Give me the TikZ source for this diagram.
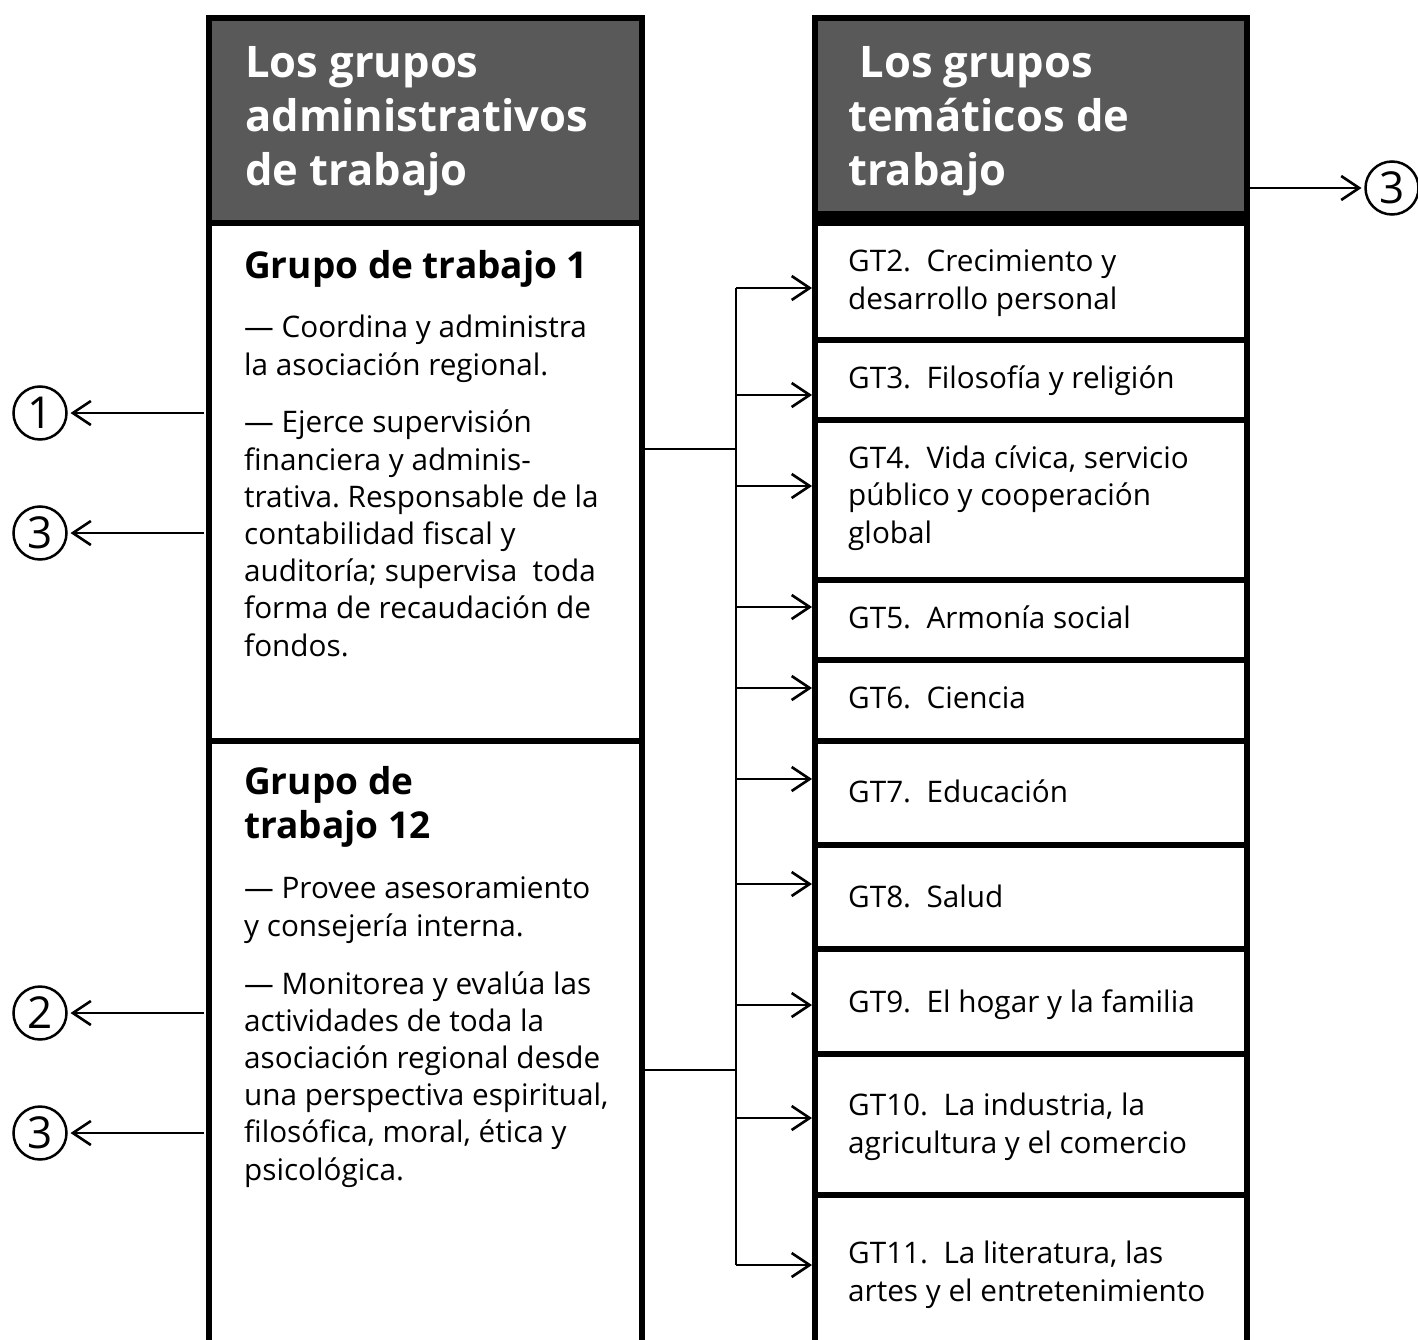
\documentclass[tikz,border=0pt]{standalone}
\usepackage{fontspec}
\setmainfont{Open Sans}
\usetikzlibrary{arrows.meta}
\definecolor{hdrgray}{HTML}{595959}
\frenchspacing
\begin{document}
\begin{tikzpicture}[x=1pt,y=-1pt,
  colbox/.style={draw=black,line width=6pt,inner sep=0pt,outer sep=0pt,anchor=north west},
  hdrbox/.style={colbox,fill=hdrgray},
  hdrtext/.style={anchor=base west,inner sep=0pt,align=left,text=white,font=\fontsize{43.5}{54}\selectfont\bfseries},
  grptext/.style={anchor=base west,inner sep=0pt,align=left,font=\fontsize{37}{44}\selectfont\bfseries},
  bodytext/.style={anchor=base west,inner sep=0pt,align=left,font=\fontsize{29.7}{37.2}\selectfont},
  numcirc/.style={circle,draw=black,line width=2.5pt,minimum size=53pt,inner sep=0pt,outer sep=4pt,font=\fontsize{44}{44}\selectfont},
  conn/.style={line width=2.6pt},
  arrR/.style={conn,-{Straight Barb[length=18pt,width=24pt]},shorten >=3pt},
  arrL/.style={conn,-{Straight Barb[length=18pt,width=24pt]},shorten <=5pt}
]
\clip (0,0) rectangle (1418,1340);
% left column
\node[hdrbox,minimum width=433pt,minimum height=205pt] (hL) at (209,18) {};
\node[colbox,minimum width=433pt,minimum height=518pt] (b1) at (209,223) {};
\node[colbox,minimum width=433pt,minimum height=650pt] (b2) at (209,741) {};
% right column
\node[hdrbox,minimum width=432pt,minimum height=205pt] (hR) at (815,18) {};
\fill[black] (815,211) rectangle (1247,223);
\node[colbox,minimum width=432pt,minimum height=117pt] (r2) at (815,223) {};
\node[colbox,minimum width=432pt,minimum height=80pt] (r3) at (815,340) {};
\node[colbox,minimum width=432pt,minimum height=160pt] (r4) at (815,420) {};
\node[colbox,minimum width=432pt,minimum height=80pt] (r5) at (815,580) {};
\node[colbox,minimum width=432pt,minimum height=81pt] (r6) at (815,660) {};
\node[colbox,minimum width=432pt,minimum height=104pt] (r7) at (815,741) {};
\node[colbox,minimum width=432pt,minimum height=104pt] (r8) at (815,845) {};
\node[colbox,minimum width=432pt,minimum height=105pt] (r9) at (815,949) {};
\node[colbox,minimum width=432pt,minimum height=141pt] (r10) at (815,1054) {};
\node[colbox,minimum width=432pt,minimum height=200pt] (r11) at (815,1195) {};
% header texts (anchor = baseline of last line)
\node[hdrtext] (tL) at (245,186) {Los grupos\\administrativos\\de trabajo};
\node[hdrtext] (tR) at (848,186) {\ Los grupos\\temáticos de\\trabajo};
% left texts
\node[grptext] (g1) at (244,278) {Grupo de trabajo 1};
\node[bodytext] (p1a) at (244,375) {— Coordina y administra\\la asociación regional.};
\node[bodytext] (p1b) at (244,656) {— Ejerce supervisión\\financiera y adminis-\\trativa. Responsable de la\\contabilidad fiscal y\\auditoría; supervisa~ toda\\forma de recaudación de\\fondos.};
\node[grptext] (g12) at (244,838) {Grupo de\\trabajo 12};
\node[bodytext] (p2a) at (244,936) {— Provee asesoramiento\\y consejería interna.};
\node[bodytext] (p2b) at (244,1180) {— Monitorea y evalúa las\\actividades de toda la\\asociación regional desde\\una perspectiva espiritual,\\filosófica, moral, ética y\\psicológica.};
% right texts
\node[bodytext] (t2) at (848,309) {GT2.~ Crecimiento y\\desarrollo personal};
\node[bodytext] (t3) at (848,388) {GT3.~ Filosofía y religión};
\node[bodytext] (t4) at (848,543) {GT4.~ Vida cívica, servicio\\público y cooperación\\global};
\node[bodytext] (t5) at (848,628) {GT5.~ Armonía social};
\node[bodytext] (t6) at (848,708) {GT6.~ Ciencia};
\node[bodytext] (t7) at (848,802) {GT7.~ Educación};
\node[bodytext] (t8) at (848,907) {GT8.~ Salud};
\node[bodytext] (t9) at (848,1012) {GT9.~ El hogar y la familia};
\node[bodytext] (t10) at (848,1153) {GT10.~ La industria, la\\agricultura y el comercio};
\node[bodytext] (t11) at (848,1301) {GT11.~ La literatura, las\\artes y el entretenimiento};
% circled numbers
\node[numcirc] (c1) at (40,413) {1};
\node[numcirc] (c3a) at (40,533) {3};
\node[numcirc] (c2) at (40,1013) {2};
\node[numcirc] (c3b) at (40,1133) {3};
\node[numcirc] (c3r) at (1392,188) {3};
% left arrows
\draw[arrL] (b1.west |- c1) -- (c1);
\draw[arrL] (b1.west |- c3a) -- (c3a);
\draw[arrL] (b2.west |- c2) -- (c2);
\draw[arrL] (b2.west |- c3b) -- (c3b);
\draw[conn,-{Straight Barb[length=18pt,width=24pt]},shorten <=3pt] (hR.east |- c3r) -- (c3r);
% trunk
\coordinate (j1) at (736,449);
\coordinate (j2) at (736,1070);
\coordinate (a2) at (736,288);
\coordinate (a3) at (736,395);
\coordinate (a4) at (736,486);
\coordinate (a5) at (736,607);
\coordinate (a6) at (736,688);
\coordinate (a7) at (736,779);
\coordinate (a8) at (736,884);
\coordinate (a9) at (736,1005);
\coordinate (a10) at (736,1118);
\coordinate (a11) at (736,1265);
\draw[conn] (b1.east |- j1) -- (j1);
\draw[conn] (b2.east |- j2) -- (j2);
\draw[conn] (a2) -- (a11);
\foreach \k in {2,...,11}{
  \draw[arrR] (a\k) -- (a\k -| r\k.west);
}
\end{tikzpicture}
\end{document}
